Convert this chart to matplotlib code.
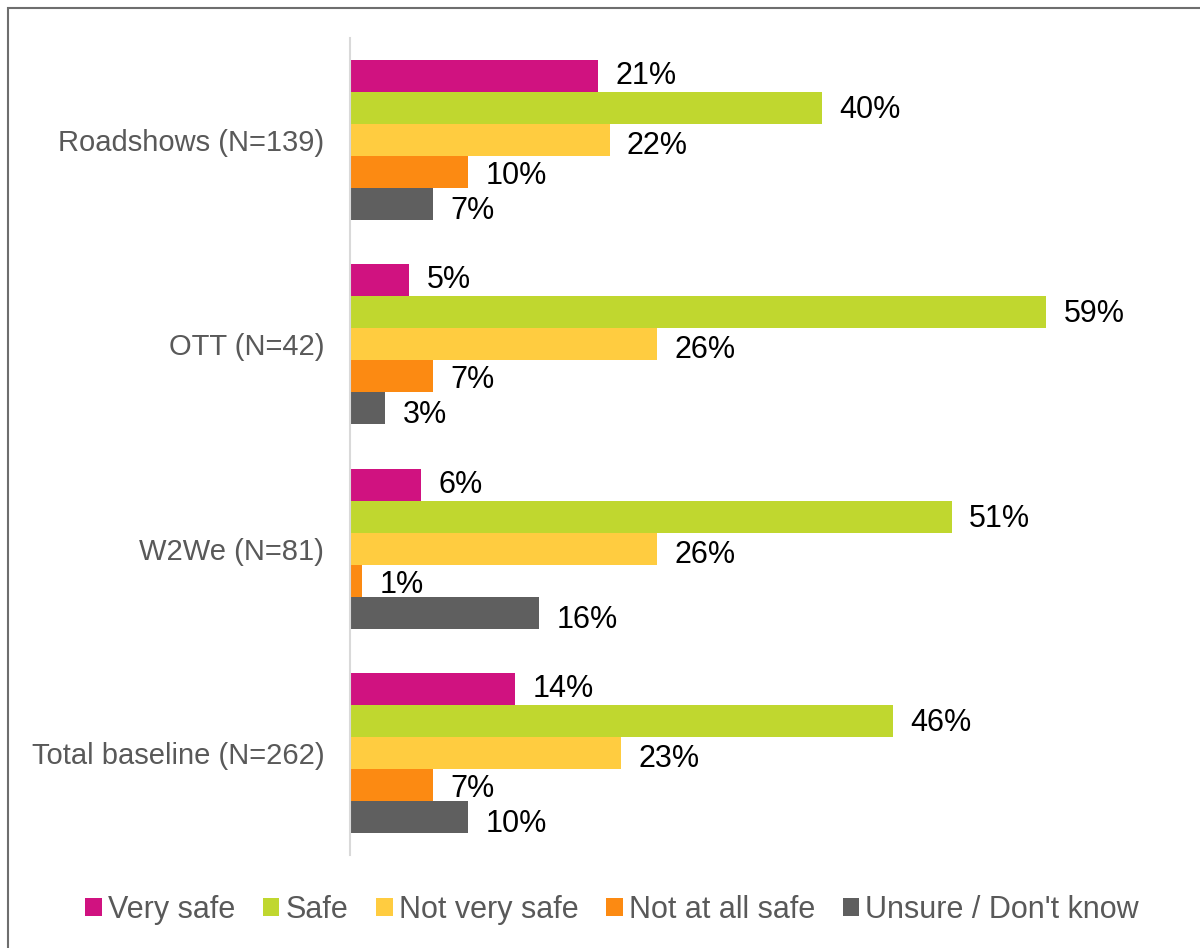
import matplotlib

matplotlib.use("Agg")
import matplotlib.pyplot as plt
from matplotlib.patches import Patch, Rectangle
import numpy as np

plt.rcParams["font.family"] = ["Liberation Sans", "DejaVu Sans"]

groups = ["Roadshows (N=139)", "OTT (N=42)", "W2We (N=81)", "Total baseline (N=262)"]
series = ["Very safe", "Safe", "Not very safe", "Not at all safe", "Unsure / Don't know"]
very_safe = [21, 5, 6, 14]
safe = [40, 59, 51, 46]
not_very_safe = [22, 26, 26, 23]
not_at_all_safe = [10, 7, 1, 7]
unsure = [7, 3, 16, 10]

colors = ["#D01280", "#C0D72F", "#FFCC40", "#FC8A12", "#5F5F5F"]
label_drop = [0, 2, 6, 4, 7]  # px, data labels sit a touch below bar centres

values = [very_safe, safe, not_very_safe, not_at_all_safe, unsure]

fig = plt.figure(figsize=(12, 9.48), dpi=100)
ax = fig.add_axes([350 / 1200, 1 - 855 / 948, 826 / 1200, 817 / 948])

h = 32 / 204
y = np.arange(len(groups))
for j, (name, vals) in enumerate(zip(series, values)):
    pos = y + (j - 2) * h
    ax.barh(pos, vals, height=h, color=colors[j], label=name, linewidth=0)
    for p, v in zip(pos, vals):
        ax.annotate(f"{v}%", (v, p), xytext=(12.5, -label_drop[j] * 0.72),
                    textcoords="offset points", ha="left", va="center",
                    fontsize=22, color="black")

ax.set_xlim(0, 70)
ax.set_ylim(len(groups) - 0.5, -0.5)
ax.set_yticks(y)
ax.set_yticklabels(groups, fontsize=21, color="#595959")
ax.tick_params(axis="y", length=0, pad=18.5)
ax.set_xticks([])
for s in ["top", "right", "bottom"]:
    ax.spines[s].set_visible(False)
ax.spines["left"].set_color("#D9D9D9")
ax.spines["left"].set_linewidth(1.5)

handles = [Patch(facecolor=c, edgecolor="none") for c in colors]
leg = fig.legend(handles, series, loc="center", bbox_to_anchor=(612 / 1200, 1 - 910 / 948),
                 ncol=5, frameon=False, fontsize=22, handlelength=0.55, handleheight=0.55,
                 handletextpad=0.2, columnspacing=0.9)
for t in leg.get_texts():
    t.set_color("#595959")

# outer chart frame, running off the right and bottom edges
fig.patches.append(Rectangle((8 / 1200, -0.1), 1.2, 1 - 8 / 948 + 0.1,
                             transform=fig.transFigure, fill=False,
                             edgecolor="#6E6E6E", linewidth=1.5))

fig.savefig("out.png")
